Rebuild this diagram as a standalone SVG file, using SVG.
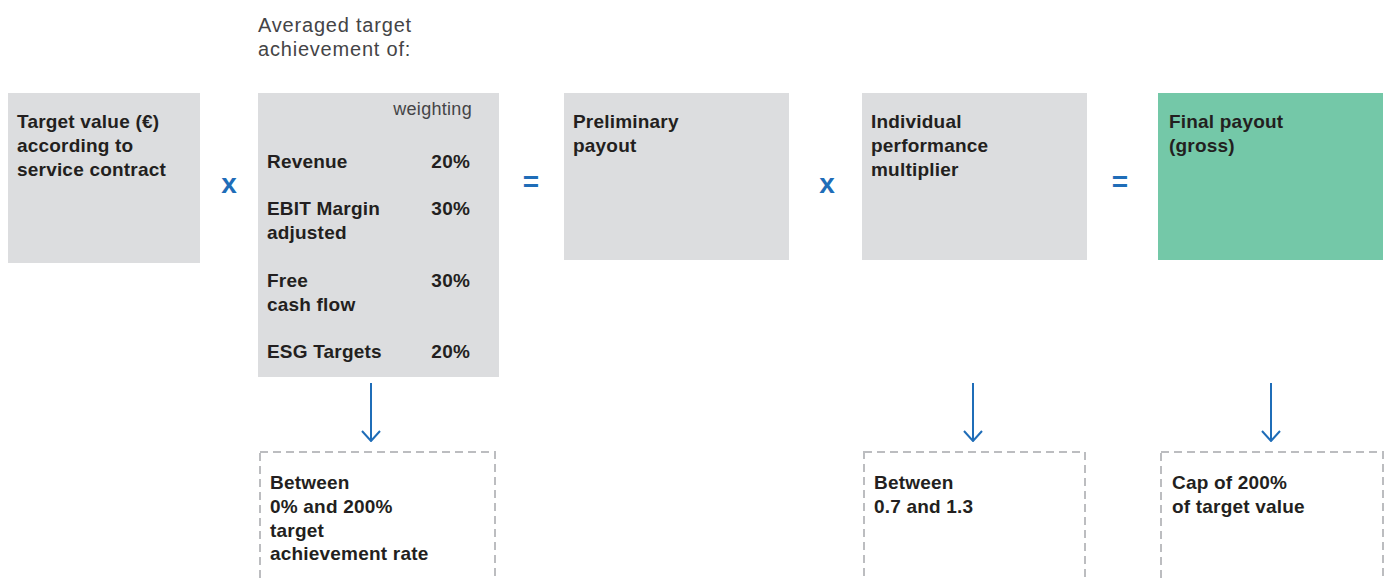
<svg xmlns="http://www.w3.org/2000/svg" width="1389" height="579" viewBox="0 0 1389 579">
  <defs>
    <style>
      .box { fill: #dcdddf; }
      .final { fill: #74c8a8; }
      .note { fill: none; stroke: #bcbdc0; stroke-width: 2; stroke-dasharray: 8 5; }
      .b { font-family: "Liberation Sans", Arial, sans-serif; font-weight: bold; font-size: 19px; letter-spacing: 0.2px; fill: #231f20; }
      .r { font-family: "Liberation Sans", Arial, sans-serif; font-size: 20px; letter-spacing: 0.8px; fill: #444446; }
      .w { font-family: "Liberation Sans", Arial, sans-serif; font-size: 18px; letter-spacing: 0.3px; fill: #444446; }
      .op { font-family: "Liberation Sans", Arial, sans-serif; font-weight: bold; font-size: 28px; fill: #1f6db8; text-anchor: middle; }
      .arrow { fill: none; stroke: #1f6db8; stroke-width: 2; }
    </style>
    <marker id="head" viewBox="0 0 12 20" refX="11" refY="10" markerWidth="12" markerHeight="20" markerUnits="userSpaceOnUse" orient="auto">
      <path d="M1 1 L11 10 L1 19" fill="none" stroke="#1f6db8" stroke-width="2"/>
    </marker>
  </defs>

  <rect width="1389" height="579" fill="#ffffff"/>

  <text class="r" x="258" y="32">Averaged target</text>
  <text class="r" x="258" y="56">achievement of:</text>

  <g id="target-value">
    <rect class="box" x="8" y="93" width="192" height="170"/>
    <text class="b" x="17" y="128">Target value (€)</text>
    <text class="b" x="17" y="152">according to</text>
    <text class="b" x="17" y="176">service contract</text>
  </g>

  <g id="target-achievement">
    <rect class="box" x="258" y="93" width="241" height="284"/>
    <text class="w" x="472" y="115" text-anchor="end">weighting</text>
    <text class="b" x="267" y="168">Revenue</text>
    <text class="b" x="470" y="168" text-anchor="end">20%</text>
    <text class="b" x="267" y="215">EBIT Margin</text>
    <text class="b" x="267" y="239">adjusted</text>
    <text class="b" x="470" y="215" text-anchor="end">30%</text>
    <text class="b" x="267" y="287">Free</text>
    <text class="b" x="267" y="311">cash flow</text>
    <text class="b" x="470" y="287" text-anchor="end">30%</text>
    <text class="b" x="267" y="358">ESG Targets</text>
    <text class="b" x="470" y="358" text-anchor="end">20%</text>
  </g>

  <g id="preliminary-payout">
    <rect class="box" x="564" y="93" width="225" height="167"/>
    <text class="b" x="573" y="128">Preliminary</text>
    <text class="b" x="573" y="152">payout</text>
  </g>

  <g id="performance-multiplier">
    <rect class="box" x="862" y="93" width="225" height="167"/>
    <text class="b" x="871" y="128">Individual</text>
    <text class="b" x="871" y="152">performance</text>
    <text class="b" x="871" y="176">multiplier</text>
  </g>

  <g id="final-payout">
    <rect class="final" x="1158" y="93" width="225" height="167"/>
    <text class="b" x="1169" y="128">Final payout</text>
    <text class="b" x="1169" y="152">(gross)</text>
  </g>

  <g id="operators">
    <text class="op" x="229" y="193">x</text>
    <text class="op" x="531" y="191">=</text>
    <text class="op" x="827" y="193">x</text>
    <text class="op" x="1120" y="191">=</text>
  </g>

  <g id="achievement-range">
    <rect class="note" x="260" y="452" width="235" height="140"/>
    <text class="b" x="270" y="489">Between</text>
    <text class="b" x="270" y="513">0% and 200%</text>
    <text class="b" x="270" y="537">target</text>
    <text class="b" x="270" y="560">achievement rate</text>
  </g>

  <g id="multiplier-range">
    <rect class="note" x="864" y="452" width="221" height="140"/>
    <text class="b" x="874" y="489">Between</text>
    <text class="b" x="874" y="513">0.7 and 1.3</text>
  </g>

  <g id="payout-cap">
    <rect class="note" x="1161" y="452" width="222" height="140"/>
    <text class="b" x="1172" y="489">Cap of 200%</text>
    <text class="b" x="1172" y="513">of target value</text>
  </g>

  <g id="connectors">
    <line class="arrow" x1="371" y1="383" x2="371" y2="441" marker-end="url(#head)"/>
    <line class="arrow" x1="973" y1="383" x2="973" y2="441" marker-end="url(#head)"/>
    <line class="arrow" x1="1271" y1="383" x2="1271" y2="441" marker-end="url(#head)"/>
  </g>
</svg>
